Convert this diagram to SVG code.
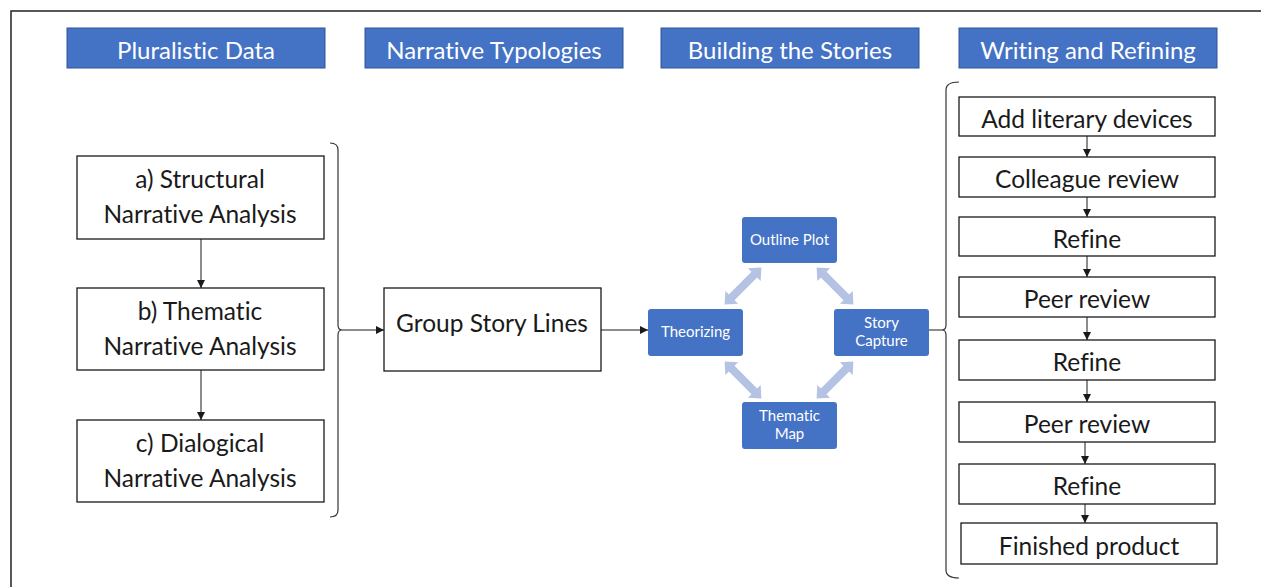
<svg xmlns="http://www.w3.org/2000/svg" width="1261" height="587" viewBox="0 0 1261 587">
  <style>
    text { font-variant-ligatures: none; }
    .hdr rect { fill: #4472C4; stroke: #2F5597; stroke-width: 1; }
    .hdr text { fill: #FFFFFF; font-family: Lato, "Open Sans", sans-serif; font-size: 24px; text-anchor: middle; }
    .box rect { fill: #FFFFFF; stroke: #1A1A1A; stroke-width: 1.3; }
    .box text { fill: #1A1A1A; font-family: Lato, "Open Sans", sans-serif; font-size: 24.5px; text-anchor: middle; }
    .step rect { fill: #FFFFFF; stroke: #1A1A1A; stroke-width: 1.3; }
    .step text { fill: #1A1A1A; font-family: Lato, "Open Sans", sans-serif; font-size: 24.5px; text-anchor: middle; }
    .cyc rect { fill: #4472C4; }
    .cyc text { fill: #FFFFFF; font-family: Lato, "Open Sans", sans-serif; font-size: 15px; text-anchor: middle; }
    .line { fill: none; stroke: #1A1A1A; stroke-width: 1; }
    .brace { fill: none; stroke: #333333; stroke-width: 1.2; }
    .dbl { fill: #B4C2E4; }
  </style>
  <defs>
    <marker id="tip" viewBox="0 0 10 10" refX="10" refY="5" markerWidth="8" markerHeight="8" markerUnits="userSpaceOnUse" orient="auto">
      <path d="M0,0 L10,5 L0,10 Z" fill="#1A1A1A"/>
    </marker>
    <!-- two-headed block arrow, drawn horizontally, 52 long -->
    <polygon id="biarrow" points="-26,0 -16,-9 -16,-4 16,-4 16,-9 26,0 16,9 16,4 -16,4 -16,9"/>
  </defs>

  <!-- frame -->
  <path d="M11,587 L11,11 L1261,11" fill="none" stroke="#222222" stroke-width="1.5"/>

  <!-- column headings -->
  <g id="hdr-pluralistic" class="hdr"><rect x="67" y="28" width="258" height="40"/><text x="196" y="59">Pluralistic Data</text></g>
  <g id="hdr-typologies" class="hdr"><rect x="365" y="28" width="258" height="40"/><text x="494" y="59">Narrative Typologies</text></g>
  <g id="hdr-building" class="hdr"><rect x="661" y="28" width="258" height="40"/><text x="790" y="59">Building the Stories</text></g>
  <g id="hdr-writing" class="hdr"><rect x="959" y="28" width="258" height="40"/><text x="1088" y="59">Writing and Refining</text></g>

  <!-- analysis boxes -->
  <g id="structural" class="box"><rect x="77" y="156" width="247" height="83"/><text x="200" y="188">a) Structural</text><text x="200" y="223">Narrative Analysis</text></g>
  <g id="thematic" class="box"><rect x="77" y="288" width="247" height="82"/><text x="200" y="320">b) Thematic</text><text x="200" y="355">Narrative Analysis</text></g>
  <g id="dialogical" class="box"><rect x="77" y="420" width="247" height="82"/><text x="200" y="452">c) Dialogical</text><text x="200" y="487">Narrative Analysis</text></g>

  <g id="group-story-lines" class="box"><rect x="384" y="288" width="217" height="83"/><text x="492" y="332">Group Story Lines</text></g>

  <!-- story-building cycle -->
  <g id="outline-plot" class="cyc"><rect x="742" y="217" width="95" height="46" rx="3"/><text x="789.5" y="245">Outline Plot</text></g>
  <g id="theorizing" class="cyc"><rect x="648" y="309" width="95" height="47" rx="3"/><text x="695.5" y="337">Theorizing</text></g>
  <g id="story-capture" class="cyc"><rect x="834" y="309" width="95" height="47" rx="3"/><text x="881.5" y="328">Story</text><text x="881.5" y="346">Capture</text></g>
  <g id="thematic-map" class="cyc"><rect x="742" y="402" width="95" height="47" rx="3"/><text x="789.5" y="421">Thematic</text><text x="789.5" y="439">Map</text></g>

  <!-- writing steps -->
  <g id="literary" class="step"><rect x="959" y="97" width="256" height="39"/><text x="1087" y="128">Add literary devices</text></g>
  <g id="colleague" class="step"><rect x="959" y="157" width="256" height="40"/><text x="1087" y="188">Colleague review</text></g>
  <g id="refine-1" class="step"><rect x="959" y="217" width="256" height="39"/><text x="1087" y="248">Refine</text></g>
  <g id="peer-1" class="step"><rect x="959" y="277" width="256" height="40"/><text x="1087" y="308">Peer review</text></g>
  <g id="refine-2" class="step"><rect x="959" y="340" width="256" height="40"/><text x="1087" y="371">Refine</text></g>
  <g id="peer-2" class="step"><rect x="959" y="402" width="256" height="40"/><text x="1087" y="433">Peer review</text></g>
  <g id="refine-3" class="step"><rect x="959" y="464" width="256" height="40"/><text x="1087" y="495">Refine</text></g>
  <g id="finished" class="step"><rect x="961" y="523" width="256" height="41"/><text x="1089" y="555">Finished product</text></g>

  <!-- connectors -->
  <g id="connectors">
    <line class="line" x1="201" y1="239" x2="201" y2="288" marker-end="url(#tip)"/>
    <line class="line" x1="201" y1="370" x2="201" y2="420" marker-end="url(#tip)"/>
    <path class="brace" d="M330,143 Q338,143 338,150 L338,325 Q338,330 342,330 Q338,330 338,335 L338,510 Q338,517 330,517"/>
    <line class="line" x1="342" y1="330" x2="384" y2="330" marker-end="url(#tip)"/>
    <line class="line" x1="601" y1="330" x2="648" y2="330" marker-end="url(#tip)"/>

    <use href="#biarrow" class="dbl" transform="translate(743,286) rotate(-45)"/>
    <use href="#biarrow" class="dbl" transform="translate(835,286) rotate(45)"/>
    <use href="#biarrow" class="dbl" transform="translate(743,380) rotate(45)"/>
    <use href="#biarrow" class="dbl" transform="translate(835,380) rotate(-45)"/>

    <line class="line" x1="929" y1="330" x2="942" y2="330"/>
    <path class="brace" d="M959,82 Q946,82 946,90 L946,325 Q946,330 942,330 Q946,330 946,335 L946,570 Q946,578 959,578"/>

    <line class="line" x1="1087" y1="136" x2="1087" y2="157" marker-end="url(#tip)"/>
    <line class="line" x1="1087" y1="197" x2="1087" y2="217" marker-end="url(#tip)"/>
    <line class="line" x1="1087" y1="256" x2="1087" y2="277" marker-end="url(#tip)"/>
    <line class="line" x1="1087" y1="317" x2="1087" y2="340" marker-end="url(#tip)"/>
    <line class="line" x1="1087" y1="380" x2="1087" y2="402" marker-end="url(#tip)"/>
    <line class="line" x1="1085" y1="442" x2="1085" y2="464" marker-end="url(#tip)"/>
    <line class="line" x1="1085" y1="504" x2="1085" y2="523" marker-end="url(#tip)"/>
  </g>
</svg>
